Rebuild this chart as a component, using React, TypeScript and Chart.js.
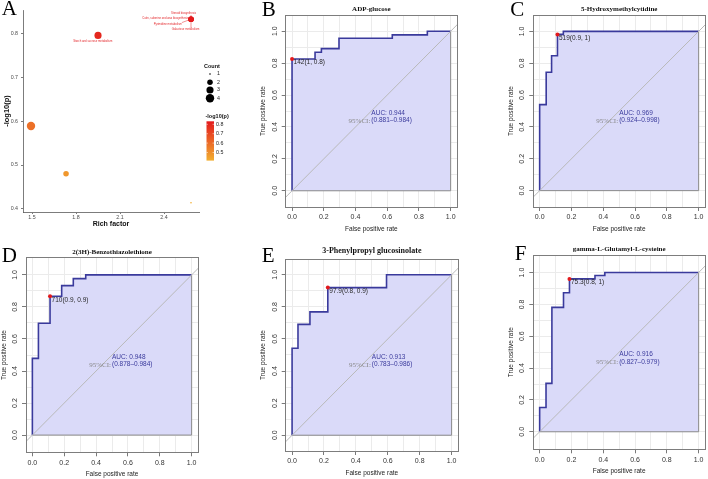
import React, { useEffect, useRef } from "react";
import { Chart, registerables } from "chart.js";

Chart.register(...registerables);

const SANS = '"Liberation Sans", Arial, Helvetica, sans-serif';
const SERIF = '"Liberation Serif", "Times New Roman", serif';

// ---------- Panel A: pathway enrichment bubbles ----------
const pathwayLabels = [
  "",
  "",
  "Starch and sucrose metabolism",
  "Steroid biosynthesis",
  "Cutin, suberine and wax biosynthesis",
  "Pyrimidine metabolism",
  "Galactose metabolism",
  "",
];
const richFactor = [1.493, 1.732, 1.95, 2.584, 2.584, 2.584, 2.584, 2.584];
const negLogP = [0.589, 0.48, 0.795, 0.832, 0.832, 0.832, 0.832, 0.414];
const pathwayCount = [4, 2, 3, 2, 2, 2, 2, 1];
const richTicks = [1.5, 1.8, 2.1, 2.4];
const negLogPTicks = [0.4, 0.5, 0.6, 0.7, 0.8];
const countLegend = [1, 2, 3, 4];
const colorbarTicks = [0.5, 0.6, 0.7, 0.8];

// text nudges (px) for the repelled pathway labels
const labelNudge: [number, number][] = [
  [0, 0], [0, 0], [-5.3, 5.8], [-7.4, -5.8], [-25.7, -0.6], [-23.2, 5], [-5.4, 10.4], [0, 0],
];

// ---------- ROC panels ----------
const rocTicks = [0, 0.1, 0.2, 0.3, 0.4, 0.5, 0.6, 0.7, 0.8, 0.9, 1];

const adpFpr = [0, 0, 0.145, 0.185, 0.296, 0.632, 0.853, 1];
const adpTpr = [0, 0.826, 0.868, 0.891, 0.956, 0.977, 1, 1];
const adpCut = [0, 0.826];
const adpThreshold = 142;
const adpAuc = [0.944, 0.881, 0.984];

const hmcFpr = [0, 0, 0.041, 0.075, 0.112, 0.149, 1];
const hmcTpr = [0, 0.54, 0.743, 0.847, 0.981, 1, 1];
const hmcCut = [0.112, 0.981];
const hmcThreshold = 519;
const hmcAuc = [0.969, 0.924, 0.998];

const btzFpr = [0, 0, 0.038, 0.111, 0.184, 0.257, 0.335, 1];
const btzTpr = [0, 0.479, 0.698, 0.867, 0.933, 0.977, 1, 1];
const btzCut = [0.111, 0.867];
const btzThreshold = 710;
const btzAuc = [0.948, 0.878, 0.984];

const ppgFpr = [0, 0, 0.037, 0.112, 0.224, 0.592, 1];
const ppgTpr = [0, 0.542, 0.691, 0.769, 0.92, 1, 1];
const ppgCut = [0.224, 0.92];
const ppgThreshold = 97.9;
const ppgAuc = [0.913, 0.783, 0.986];

const gglFpr = [0, 0, 0.04, 0.077, 0.15, 0.1875, 0.348, 0.41, 1];
const gglTpr = [0, 0.152, 0.304, 0.781, 0.873, 0.96, 0.981, 1, 1];
const gglCut = [0.1875, 0.96];
const gglThreshold = 75.3;
const gglAuc = [0.916, 0.827, 0.979];

const NAVY = "#3a3a9c";
const LAVENDER = "#dadaf9";

type Box = { l: number; t: number; r: number; b: number };

interface RocSpec {
  letter: string;
  letterDx: number;
  letterDy: number;
  title: string;
  titleSize: number;
  titleGap: number;
  box: Box;
  fpr: number[];
  tpr: number[];
  cut: number[];
  threshold: number;
  auc: number[];
}

const rocPanels: RocSpec[] = [
  { letter: "B", letterDx: -24, letterDy: 1, title: "ADP-glucose", titleSize: 7, titleGap: 6,
    box: { l: 285.7, t: 15, r: 458, b: 207 }, fpr: adpFpr, tpr: adpTpr, cut: adpCut, threshold: adpThreshold, auc: adpAuc },
  { letter: "C", letterDx: -23, letterDy: 1, title: "5-Hydroxymethylcytidine", titleSize: 7, titleGap: 6,
    box: { l: 533.3, t: 15, r: 705.3, b: 207 }, fpr: hmcFpr, tpr: hmcTpr, cut: hmcCut, threshold: hmcThreshold, auc: hmcAuc },
  { letter: "D", letterDx: -24.3, letterDy: 4, title: "2(3H)-Benzothiazolethione", titleSize: 7, titleGap: 5.7,
    box: { l: 26, t: 257.7, r: 199, b: 452.3 }, fpr: btzFpr, tpr: btzTpr, cut: btzCut, threshold: btzThreshold, auc: btzAuc },
  { letter: "E", letterDx: -24, letterDy: 2.7, title: "3-Phenylpropyl glucosinolate", titleSize: 8, titleGap: 8,
    box: { l: 285.7, t: 259, r: 459, b: 451 }, fpr: ppgFpr, tpr: ppgTpr, cut: ppgCut, threshold: ppgThreshold, auc: ppgAuc },
  { letter: "F", letterDx: -18.5, letterDy: 5, title: "gamma-L-Glutamyl-L-cysteine", titleSize: 7, titleGap: 5.7,
    box: { l: 533.3, t: 255, r: 705.3, b: 449.3 }, fpr: gglFpr, tpr: gglTpr, cut: gglCut, threshold: gglThreshold, auc: gglAuc },
];

// ---------- helpers ----------
const HIGH = [227, 26, 28];
const LOW = [242, 174, 48];
const pMin = Math.min(...negLogP);
const pMax = Math.max(...negLogP);
function pColor(v: number) {
  const t = Math.max(0, Math.min(1, (v - pMin) / (pMax - pMin)));
  const c = HIGH.map((h, k) => Math.round(LOW[k] + (h - LOW[k]) * t));
  return `rgb(${c[0]},${c[1]},${c[2]})`;
}
const cMin = Math.min(...countLegend);
const cMax = Math.max(...countLegend);
function countRadius(c: number) {
  const t = (c - cMin) / (cMax - cMin);
  return 0.8 + 3.4 * Math.sqrt(t);
}
const clamp = (v: number, a: number, b: number) => Math.max(a, Math.min(b, v));
const fmt1 = (v: number) => String(Number(v.toFixed(1)));

// ---------- panel A plugin: labels, legends, letter ----------
const enrichDecor = {
  id: "enrichDecor",
  afterDatasetsDraw(chart: any) {
    const { ctx, chartArea: ca, scales } = chart;
    const xs = scales.x;
    const ys = scales.y;
    ctx.save();

    // repelled pathway labels
    ctx.font = `2.8px ${SANS}`;
    ctx.textAlign = "center";
    ctx.textBaseline = "middle";
    ctx.fillStyle = "#e3262a";
    ctx.strokeStyle = "#e3262a";
    ctx.lineWidth = 0.5;
    pathwayLabels.forEach((txt, i) => {
      if (!txt) return;
      const px = xs.getPixelForValue(richFactor[i]);
      const py = ys.getPixelForValue(negLogP[i]);
      const cx = px + labelNudge[i][0];
      const cy = py + labelNudge[i][1];
      const w = ctx.measureText(txt).width;
      const h = 3.2;
      const qx = clamp(px, cx - w / 2, cx + w / 2);
      const qy = clamp(py, cy - h / 2, cy + h / 2);
      const d = Math.hypot(px - qx, py - qy);
      const r = countRadius(pathwayCount[i]);
      if (d > r + 0.8) {
        const ex = px + ((qx - px) / d) * r;
        const ey = py + ((qy - py) / d) * r;
        ctx.beginPath();
        ctx.moveTo(qx, qy);
        ctx.lineTo(ex, ey);
        ctx.stroke();
      }
      ctx.fillText(txt, cx, cy);
    });

    // size legend
    const lx = ca.right;
    ctx.textAlign = "left";
    ctx.fillStyle = "#111";
    ctx.font = `bold 5.5px ${SANS}`;
    ctx.fillText("Count", lx + 5, ca.top + 56);
    const dotY = [64, 72.3, 80, 88.3];
    ctx.font = `5.3px ${SANS}`;
    countLegend.forEach((c, k) => {
      ctx.fillStyle = "#000";
      ctx.beginPath();
      ctx.arc(lx + 11, ca.top + dotY[k], countRadius(c), 0, Math.PI * 2);
      ctx.fill();
      ctx.fillStyle = "#222";
      ctx.fillText(String(c), lx + 18, ca.top + dotY[k]);
    });

    // colour bar
    ctx.font = `bold 5.5px ${SANS}`;
    ctx.fillStyle = "#111";
    ctx.fillText("-log10(p)", lx + 6.5, ca.top + 106);
    const barTop = ca.top + 111.3;
    const pxPerUnit = 94;
    const barBot = barTop + (pMax - pMin) * pxPerUnit;
    const bx0 = lx + 7.5;
    const bw = 7.5;
    const grad = ctx.createLinearGradient(0, barTop, 0, barBot);
    for (let s = 0; s <= 4; s++) {
      grad.addColorStop(s / 4, pColor(pMax - (s / 4) * (pMax - pMin)));
    }
    ctx.fillStyle = grad;
    ctx.fillRect(bx0, barTop, bw, barBot - barTop);
    ctx.font = `5.3px ${SANS}`;
    ctx.strokeStyle = "#ffffff";
    ctx.lineWidth = 0.5;
    colorbarTicks.forEach((v) => {
      const ty = barTop + (pMax - v) * pxPerUnit;
      ctx.beginPath();
      ctx.moveTo(bx0, ty);
      ctx.lineTo(bx0 + 1.5, ty);
      ctx.moveTo(bx0 + bw - 1.5, ty);
      ctx.lineTo(bx0 + bw, ty);
      ctx.stroke();
      ctx.fillStyle = "#222";
      ctx.fillText(v.toFixed(1), bx0 + bw + 2, ty);
    });

    // panel letter
    ctx.textBaseline = "alphabetic";
    ctx.font = `21px ${SERIF}`;
    ctx.fillStyle = "#000";
    ctx.fillText("A", ca.left - 21.3, ca.top + 5);
    ctx.restore();
  },
};

function enrichConfig() {
  const xSpan = Math.max(...richFactor) - Math.min(...richFactor);
  const ySpan = pMax - pMin;
  const xMin = Math.min(...richFactor) - 0.05 * xSpan;
  const xMax = Math.max(...richFactor) + 0.05 * xSpan;
  const yMin = pMin - 0.05 * ySpan;
  const yMax = pMax + 0.05 * ySpan;
  const axisGrey = "#5a5a5a";
  return {
    type: "scatter",
    data: {
      datasets: [
        {
          data: richFactor.map((x, i) => ({ x, y: negLogP[i] })),
          pointRadius: pathwayCount.map(countRadius),
          pointBackgroundColor: negLogP.map(pColor),
          pointBorderWidth: 0,
          pointHoverRadius: pathwayCount.map(countRadius),
        },
      ],
    },
    options: {
      responsive: false,
      animation: false,
      events: [],
      layout: { padding: { left: 0, top: 10, right: 41, bottom: 4 } },
      plugins: { legend: { display: false }, tooltip: { enabled: false } },
      scales: {
        x: {
          type: "linear",
          min: xMin,
          max: xMax,
          afterBuildTicks: (a: any) => {
            a.ticks = richTicks.map((v) => ({ value: v }));
          },
          afterFit: (s: any) => {
            s.height = 16;
          },
          grid: { drawOnChartArea: false, tickLength: 2, tickColor: axisGrey, tickWidth: 0.8 },
          border: { display: true, color: axisGrey, width: 0.8 },
          ticks: {
            autoSkip: false,
            maxRotation: 0,
            font: { family: SANS, size: 5.3 },
            color: "#4d4d4d",
            padding: 0,
            callback: (v: any) => Number(v).toFixed(1),
          },
          title: { display: true, text: "Rich factor", font: { family: SANS, size: 7, weight: "bold" }, color: "#111", padding: 0 },
        },
        y: {
          type: "linear",
          min: yMin,
          max: yMax,
          afterBuildTicks: (a: any) => {
            a.ticks = negLogPTicks.map((v) => ({ value: v }));
          },
          afterFit: (s: any) => {
            s.width = 23;
          },
          grid: { drawOnChartArea: false, tickLength: 2, tickColor: axisGrey, tickWidth: 0.8 },
          border: { display: true, color: axisGrey, width: 0.8 },
          ticks: {
            autoSkip: false,
            font: { family: SANS, size: 5.3 },
            color: "#4d4d4d",
            padding: 3,
            callback: (v: any) => Number(v).toFixed(1),
          },
          title: { display: true, text: "-log10(p)", font: { family: SANS, size: 7.5, weight: "bold" }, color: "#111", padding: { top: 2, bottom: 0 } },
        },
      },
    },
    plugins: [enrichDecor],
  };
}

// ---------- ROC plugin: box, labels, title, letter ----------
const rocDecor = {
  id: "rocDecor",
  afterDatasetsDraw(chart: any, _args: any, o: any) {
    const { ctx, chartArea: ca, scales } = chart;
    const xs = scales.x;
    const ys = scales.y;
    const al = (v: number) => Math.round(v - 0.5) + 0.5;
    ctx.save();
    ctx.strokeStyle = "#7d7d7d";
    ctx.lineWidth = 1;
    ctx.strokeRect(al(ca.left), al(ca.top), al(ca.right) - al(ca.left), al(ca.bottom) - al(ca.top));

    // cut-off label
    const px = xs.getPixelForValue(o.cut[0]);
    const py = ys.getPixelForValue(o.cut[1]);
    ctx.font = `6.5px ${SANS}`;
    ctx.fillStyle = "#2a2a2a";
    ctx.textAlign = "left";
    ctx.textBaseline = "middle";
    ctx.fillText(`${o.threshold}(${fmt1(1 - o.cut[0])}, ${fmt1(o.cut[1])})`, px + 1.5, py + 3.6);

    // AUC with confidence interval
    const ax = xs.getPixelForValue(0.5);
    const ay = ys.getPixelForValue(0.5);
    ctx.fillStyle = NAVY;
    ctx.fillText(`AUC: ${o.auc[0].toFixed(3)}`, ax, ay + 2.2);
    ctx.fillText(`(${o.auc[1].toFixed(3)}\u2013${o.auc[2].toFixed(3)})`, ax, ay + 9.7);
    ctx.textAlign = "right";
    ctx.fillStyle = "#888888";
    ctx.font = `7px ${SERIF}`;
    ctx.fillText("95%CI:", ax - 1, ay + 9.7);

    // title
    ctx.textAlign = "center";
    ctx.fillStyle = "#111";
    ctx.font = `bold ${o.titleSize}px ${SERIF}`;
    ctx.fillText(o.title, (ca.left + ca.right) / 2, ca.top - o.titleGap);

    // panel letter
    ctx.textAlign = "left";
    ctx.textBaseline = "alphabetic";
    ctx.font = `21px ${SERIF}`;
    ctx.fillStyle = "#000";
    ctx.fillText(o.letter, ca.left + o.letterDx, ca.top + o.letterDy);
    ctx.restore();
  },
};

const AXW = 26;
const AXH = 26;
const ML = 34;
const MT = 18;
const MR = 3;
const MB = 28;

function rocRect(box: Box) {
  const x = Math.floor(box.l - ML);
  const y = Math.floor(box.t - MT);
  const w = Math.ceil(box.r + MR - x);
  const h = Math.ceil(box.b + MB - y);
  return {
    x, y, w, h,
    padding: { left: box.l - AXW - x, top: box.t - y, right: x + w - box.r, bottom: y + h - box.b - AXH },
  };
}

function rocConfig(spec: RocSpec) {
  const { box } = spec;
  const rect = rocRect(box);
  const xr = 1.08;
  const yr = (xr * (box.b - box.t)) / (box.r - box.l);
  const grid = {
    color: "#ebebeb",
    lineWidth: 1,
    tickLength: 4,
    tickWidth: 1,
    tickColor: (c: any) => (c.index % 2 ? "rgba(0,0,0,0)" : "#7a7a7a"),
  };
  const tickFont = { family: SANS, size: 7 };
  const titleFont = { family: SANS, size: 6.5 };
  const label = (v: any, i: number) => (i % 2 ? "" : Number(v).toFixed(1));
  return {
    type: "line",
    data: {
      datasets: [
        {
          data: [{ x: spec.cut[0], y: spec.cut[1] }],
          showLine: false,
          pointRadius: 2,
          pointBackgroundColor: "#e3191c",
          pointBorderWidth: 0,
          order: 0,
        },
        {
          data: [{ x: -0.5, y: -0.5 }, { x: 1.5, y: 1.5 }],
          borderColor: "#b9b9b9",
          borderWidth: 1,
          pointRadius: 0,
          fill: false,
          order: 1,
        },
        {
          data: [{ x: 0, y: 0 }, { x: 1, y: 0 }, { x: 1, y: 1 }],
          borderColor: "#8a8a8a",
          borderWidth: 1,
          pointRadius: 0,
          fill: false,
          order: 2,
        },
        {
          data: spec.fpr.map((x, i) => ({ x, y: spec.tpr[i] })),
          stepped: "before",
          borderColor: NAVY,
          borderWidth: 1.6,
          backgroundColor: LAVENDER,
          fill: "origin",
          pointRadius: 0,
          order: 3,
        },
      ],
    },
    options: {
      responsive: false,
      animation: false,
      events: [],
      layout: { padding: rect.padding },
      plugins: {
        legend: { display: false },
        tooltip: { enabled: false },
        rocDecor: {
          letter: spec.letter, letterDx: spec.letterDx, letterDy: spec.letterDy,
          title: spec.title, titleSize: spec.titleSize, titleGap: spec.titleGap,
          cut: spec.cut, threshold: spec.threshold, auc: spec.auc,
        },
      },
      scales: {
        x: {
          type: "linear",
          min: -0.04,
          max: 1.04,
          afterBuildTicks: (a: any) => {
            a.ticks = rocTicks.map((v) => ({ value: v }));
          },
          afterFit: (s: any) => {
            s.height = AXH;
          },
          grid,
          border: { display: false },
          ticks: { autoSkip: false, maxRotation: 0, minRotation: 0, font: tickFont, color: "#333", padding: 2.2, callback: label },
          title: { display: true, text: "False positive rate", font: titleFont, color: "#222", padding: 0 },
        },
        y: {
          type: "linear",
          min: 0.5 - yr / 2,
          max: 0.5 + yr / 2,
          afterBuildTicks: (a: any) => {
            a.ticks = rocTicks.map((v) => ({ value: v }));
          },
          afterFit: (s: any) => {
            s.width = AXW;
          },
          grid,
          border: { display: false },
          ticks: { autoSkip: false, minRotation: 90, maxRotation: 90, crossAlign: "center", font: tickFont, color: "#333", padding: 2, callback: label },
          title: { display: true, text: "True positive rate", font: titleFont, color: "#222", padding: 0 },
        },
      },
    },
    plugins: [rocDecor],
  };
}

// ---------- components ----------
function ChartCanvas({ rect, make }: { rect: { x: number; y: number; w: number; h: number }; make: () => any }) {
  const ref = useRef<HTMLCanvasElement | null>(null);
  useEffect(() => {
    if (!ref.current) return;
    const chart = new Chart(ref.current, make());
    return () => chart.destroy();
  }, []);
  return (
    <canvas
      ref={ref}
      width={rect.w}
      height={rect.h}
      style={{ position: "absolute", left: rect.x, top: rect.y, width: rect.w, height: rect.h, display: "block" }}
    />
  );
}

export default function App() {
  return (
    <div
      style={{
        position: "fixed",
        left: 0,
        top: 0,
        width: 708,
        height: 479,
        overflow: "hidden",
        background: "#ffffff",
      }}
    >
      <ChartCanvas rect={{ x: 0, y: 0, w: 240, h: 232 }} make={enrichConfig} />
      {rocPanels.map((p) => {
        const r = rocRect(p.box);
        return <ChartCanvas key={p.letter} rect={{ x: r.x, y: r.y, w: r.w, h: r.h }} make={() => rocConfig(p)} />;
      })}
    </div>
  );
}
